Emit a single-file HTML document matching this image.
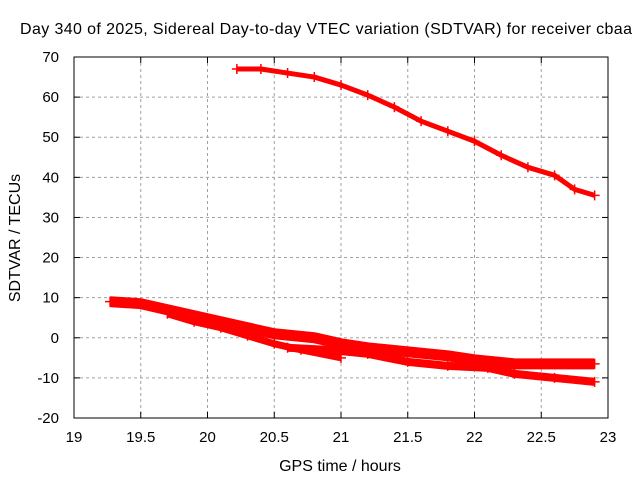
<!DOCTYPE html>
<html><head><meta charset="utf-8"><style>
body{margin:0;background:#fff}
svg{display:block;font-family:"Liberation Sans",sans-serif}
</style></head><body>
<svg id="chart" width="640" height="480">
<text x="326" y="34" text-anchor="middle" font-size="16" textLength="612">Day 340 of 2025, Sidereal Day-to-day VTEC variation (SDTVAR) for receiver cbaa</text>
<text x="340" y="471" text-anchor="middle" font-size="16">GPS time / hours</text>
<text transform="translate(20,238) rotate(-90)" text-anchor="middle" font-size="16">SDTVAR / TECUs</text>
<g id="grid"></g><g id="series"></g>
<rect x="74" y="57" width="534" height="361" fill="none" stroke="#000" stroke-width="1"/>
</svg>
<script>
const xTicks=[19,19.5,20,20.5,21,21.5,22,22.5,23];
const yTicks=[-20,-10,0,10,20,30,40,50,60,70];
const topX=[20.22,20.4,20.6,20.8,21.0,21.2,21.4,21.6,21.8,22.0,22.2,22.4,22.6,22.75,22.9];
const topY=[67,67,66,65,63,60.5,57.5,54,51.5,49,45.5,42.5,40.5,37,35.5];
const bandAX=[19.27,19.5,19.7,19.9,20.1,20.3,20.5,20.8,21.0,21.2,21.5,21.8,22.0,22.3,22.6,22.9];
const bandAY=[9,8.5,7,5.5,4,2.5,1,0,-1.5,-2.5,-3.5,-4.5,-5.5,-6.5,-6.5,-6.5];
const bandBX=[19.7,19.9,20.1,20.3,20.5,20.7,21.0];
const bandBY=[6,4,2.5,0.5,-1.5,-3,-5];
const bandCX=[20.6,20.9,21.2,21.5,21.8,22.1,22.3,22.6,22.9];
const bandCY=[-2.5,-3,-4,-6,-7,-7.5,-9,-10,-11];
const NS='http://www.w3.org/2000/svg';
const X=v=>74+(v-19)*(534/4);
const Y=v=>418-(v+20)*(361/90);
const grid=document.getElementById('grid');
function mk(t,a,p){const e=document.createElementNS(NS,t);for(const k in a)e.setAttribute(k,a[k]);p.appendChild(e);return e;}
xTicks.forEach(t=>{
 if(t>19&&t<23){const l=mk('line',{x1:X(t),x2:X(t),y1:57,y2:418,stroke:'#a0a0a0','stroke-dasharray':'3,3'},grid);
 
 }
 mk('line',{x1:X(t),x2:X(t),y1:418,y2:412,stroke:'#000'},grid);
 mk('line',{x1:X(t),x2:X(t),y1:57,y2:63,stroke:'#000'},grid);
 const tx=mk('text',{x:X(t),y:442,'text-anchor':'middle','font-size':15},grid);tx.textContent=t;
 
 
});
yTicks.forEach(t=>{
 if(t>-20&&t<70){const l=mk('line',{x1:74,x2:608,y1:Y(t),y2:Y(t),stroke:'#a0a0a0','stroke-dasharray':'3,3'},grid);
 
 }
 mk('line',{x1:74,x2:80,y1:Y(t),y2:Y(t),stroke:'#000'},grid);
 mk('line',{x1:602,x2:608,y1:Y(t),y2:Y(t),stroke:'#000'},grid);
 const tx=mk('text',{x:59,y:Y(t)+5,'text-anchor':'end','font-size':15},grid);tx.textContent=t;
 
 
});
const sg=document.getElementById('series');
function series(xs,ys,w,name){
 const g=mk('g',{},sg);
 
 
 mk('polyline',{points:xs.map((x,i)=>X(x)+','+Y(ys[i])).join(' '),fill:'none',stroke:'#ff0000','stroke-width':w,'stroke-linejoin':'round'},g);
 xs.forEach((x,i)=>{const cx=X(x),cy=Y(ys[i]);
  mk('path',{d:`M${cx-5},${cy}h10M${cx},${cy-5}v10`,stroke:'#ff0000','stroke-width':1.5},g);});
}
series(topX,topY,5,'series-upper');
series(bandAX,bandAY,11,'series-band-a');
series(bandBX,bandBY,7,'series-band-b');
series(bandCX,bandCY,8,'series-band-c');
</script>
</body></html>
